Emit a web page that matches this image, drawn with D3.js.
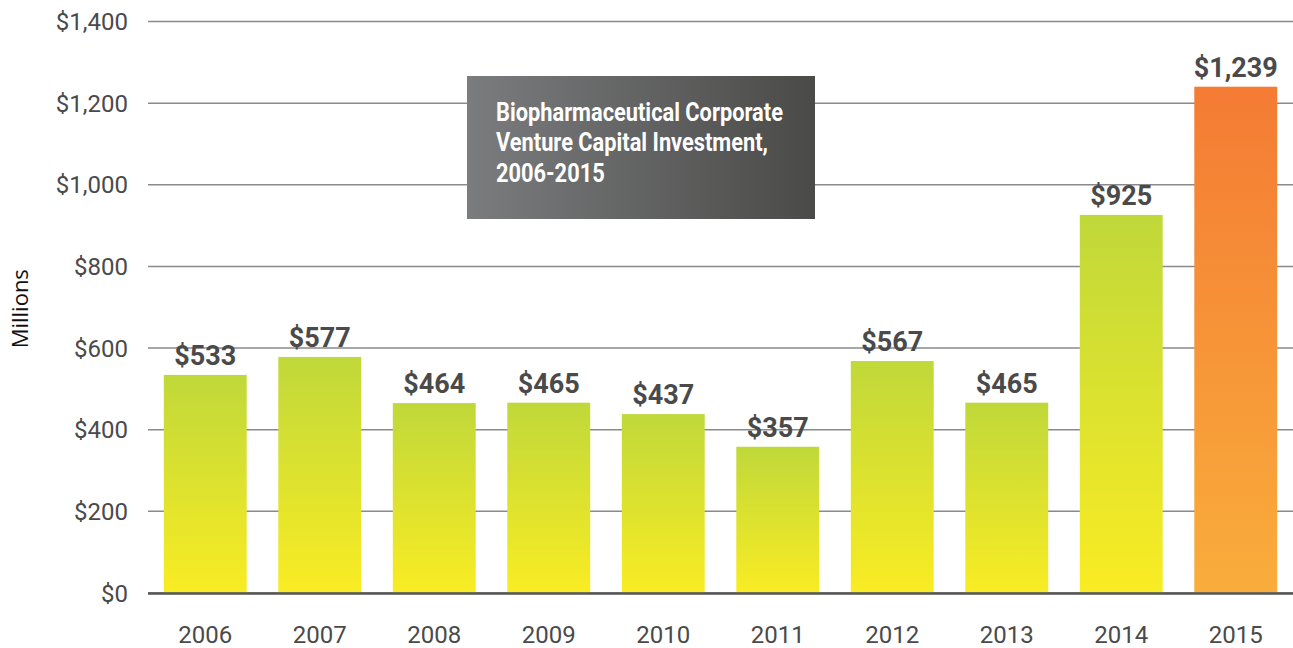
<!DOCTYPE html>
<html>
<head>
<meta charset="utf-8">
<script src="https://cdn.jsdelivr.net/npm/d3@7.9.0/dist/d3.min.js"></script>
<style>
  html, body { margin: 0; padding: 0; background: #fff; }
  svg { display: block; }
</style>
</head>
<body>
<svg id="chart" width="1293" height="648"></svg>
<script>
// data
const years = ['2006', '2007', '2008', '2009', '2010', '2011', '2012', '2013', '2014', '2015'];
const investment = [533, 577, 464, 465, 437, 357, 567, 465, 925, 1239];
const yTicks = [0, 200, 400, 600, 800, 1000, 1200, 1400];
const titleLines = ['Biopharmaceutical Corporate', 'Venture Capital Investment,', '2006-2015'];

const width = 1293, height = 648;
const margin = { top: 21, right: 0, bottom: 55, left: 148 };

const svg = d3.select('#chart');

// gradients: green-yellow bars, orange for the latest year
const defs = svg.append('defs');
const greenGrad = defs.append('linearGradient')
  .attr('id', 'barGreen').attr('x1', 0).attr('y1', 0).attr('x2', 0).attr('y2', 1);
greenGrad.append('stop').attr('offset', '0%').attr('stop-color', '#c0d83a');
greenGrad.append('stop').attr('offset', '100%').attr('stop-color', '#f9ec23');

const orangeGrad = defs.append('linearGradient')
  .attr('id', 'barOrange').attr('x1', 0).attr('y1', 0).attr('x2', 0).attr('y2', 1);
orangeGrad.append('stop').attr('offset', '0%').attr('stop-color', '#f47b34');
orangeGrad.append('stop').attr('offset', '100%').attr('stop-color', '#f9ad3b');

const boxGrad = defs.append('linearGradient')
  .attr('id', 'boxGrad').attr('x1', 0).attr('y1', 0).attr('x2', 1).attr('y2', 0);
boxGrad.append('stop').attr('offset', '0%').attr('stop-color', '#7b7c7e');
boxGrad.append('stop').attr('offset', '100%').attr('stop-color', '#4a4a48');

// scales
const x = d3.scaleBand()
  .domain(years)
  .range([margin.left, width - margin.right])
  .paddingInner(0.276)
  .paddingOuter(0.138);

const y = d3.scaleLinear()
  .domain([0, 1400])
  .range([height - margin.bottom - 0.5, margin.top]);

// gridlines + tick labels
const yAxis = d3.axisLeft(y)
  .tickValues(yTicks)
  .tickSize(-(width - margin.left))
  .tickPadding(20)
  .tickFormat(d => '$' + d3.format(',')(d));

const gy = svg.append('g')
  .attr('transform', `translate(${margin.left},0)`)
  .call(yAxis);
gy.select('.domain').remove();
gy.selectAll('.tick line')
  .attr('stroke', '#8a8a8a')
  .attr('stroke-width', 1.5);
gy.selectAll('.tick text')
  .attr('fill', '#4a4a4a')
  .attr('font-family', 'Roboto, sans-serif')
  .attr('font-size', 24)
  .attr('dy', '0.36em');

// y axis title
svg.append('text')
  .attr('transform', `translate(28,${(y(0) + y(1400)) / 2 + 2}) rotate(-90)`)
  .attr('text-anchor', 'middle')
  .attr('font-family', '"Open Sans", sans-serif')
  .attr('font-size', 22)
  .attr('fill', '#111')
  .text('Millions');

// bars
svg.append('g')
  .selectAll('rect')
  .data(investment)
  .join('rect')
  .attr('x', (d, i) => x(years[i]))
  .attr('y', d => y(d))
  .attr('width', x.bandwidth())
  .attr('height', d => y(0) - y(d))
  .attr('fill', (d, i) => i === years.length - 1 ? 'url(#barOrange)' : 'url(#barGreen)');

// value labels
svg.append('g')
  .selectAll('text')
  .data(investment)
  .join('text')
  .attr('x', (d, i) => x(years[i]) + x.bandwidth() / 2)
  .attr('y', d => y(d) - 10)
  .attr('text-anchor', 'middle')
  .attr('font-family', 'Roboto, sans-serif')
  .attr('font-weight', 'bold')
  .attr('font-size', 27)
  .attr('fill', '#4a4a4a')
  .text(d => '$' + d3.format(',')(d));

// baseline
svg.append('line')
  .attr('x1', margin.left)
  .attr('x2', width)
  .attr('y1', y(0) + 1)
  .attr('y2', y(0) + 1)
  .attr('stroke', '#555')
  .attr('stroke-width', 2.5);

// year labels
svg.append('g')
  .selectAll('text')
  .data(years)
  .join('text')
  .attr('x', d => x(d) + x.bandwidth() / 2)
  .attr('y', 643)
  .attr('text-anchor', 'middle')
  .attr('font-family', 'Roboto, sans-serif')
  .attr('font-size', 24)
  .attr('fill', '#4a4a4a')
  .text(d => d);

// title box (condensed look: squeeze a bold font horizontally)
const box = svg.append('g').attr('transform', 'translate(467,76)');
box.append('rect')
  .attr('width', 348)
  .attr('height', 143)
  .attr('fill', 'url(#boxGrad)');
const titleG = box.append('g');
titleG.selectAll('text')
  .data(titleLines)
  .join('text')
  .attr('x', 0)
  .attr('y', (d, i) => i * 31)
  .attr('font-family', 'Roboto, sans-serif')
  .attr('font-weight', 'bold')
  .attr('font-size', 25.5)
  .attr('fill', '#fff')
  .text(d => d);
const firstW = titleG.select('text').node().getComputedTextLength();
const sx = 287 / firstW;
titleG.attr('transform', `translate(29,44.5) scale(${sx},1)`);
</script>
</body>
</html>
